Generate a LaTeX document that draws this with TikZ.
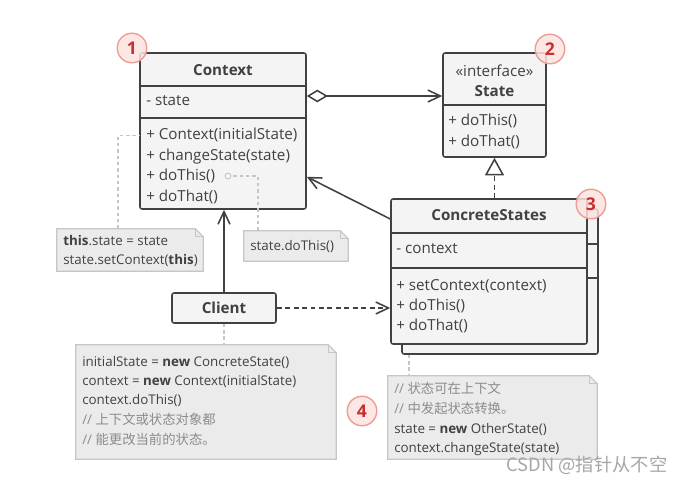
\documentclass[tikz,border=0pt]{standalone}
\usepackage{fontspec}
\setmainfont{Open Sans}
\newfontfamily\cjk{Noto Sans CJK SC}
\usetikzlibrary{arrows.meta,fit,calc}

\definecolor{ink}{HTML}{414141}
\definecolor{boxfill}{HTML}{F4F4F4}
\definecolor{notefill}{HTML}{EBEBEB}
\definecolor{noteline}{HTML}{C6C6C6}
\definecolor{hint}{HTML}{8C8C8C}
\definecolor{badgefill}{HTML}{FCE3E0}
\definecolor{badgeline}{HTML}{EC9C94}
\definecolor{badgetext}{HTML}{C8302E}

% comment line inside a note
\newcommand\cmt[1]{{\color{hint}// {\cjk #1}}}
% note sheet with a folded corner
\newcommand\notesheet[1]{%
  \draw[notebox] (#1.south west) -- (#1.north west) -- ($(#1.north east)+(-8,0)$)
    -- ($(#1.north east)+(0,8)$) -- (#1.south east) -- cycle;
  \draw[notebox, fill=none] ($(#1.north east)+(-8,0)$) |- ($(#1.north east)+(0,8)$);}

\begin{document}
\begin{tikzpicture}[x=0.025cm, y=-0.025cm,
  font=\fontsize{10.8}{14}\selectfont, text=ink,
  classbox/.style={draw=ink, fill=boxfill, line width=1.1pt, rounded corners=1.5pt, inner sep=0pt},
  divider/.style={draw=ink, line width=1.1pt},
  member/.style={anchor=west, inner sep=0pt, text height=7.5pt, text depth=2pt},
  noteline/.style={member, font=\fontsize{9.5}{12}\selectfont},
  title/.style={inner sep=0pt, font=\fontsize{10.8}{14}\selectfont\bfseries},
  notearea/.style={inner sep=0pt},
  notebox/.style={draw=noteline, fill=notefill, line width=0.8pt},
  hintline/.style={draw=noteline, line width=0.9pt, dash pattern=on 2.5pt off 2pt},
  link/.style={draw=ink, line width=1.1pt},
  openhead/.style={-{Straight Barb[length=9pt, width=8.5pt]}},
  badge/.style={circle, draw=badgeline, fill=badgefill, fill opacity=0.85, text opacity=1,
    line width=1pt, minimum size=21pt, inner sep=0pt,
    font=\fontsize{12.5}{12.5}\selectfont\bfseries, text=badgetext}]
\useasboundingbox (0,0) rectangle (687,483);

% Context
\node[classbox, fit={(140,53) (306,209)}] (context) {};
\draw[divider] (context.west |- 0,86) -- (context.east |- 0,86);
\draw[divider] (context.west |- 0,118) -- (context.east |- 0,118);
\node[title] (ctxname) at (223,70) {Context};
\node[member] (ctxattr) at (146,102) {- state};
\foreach \txt [count=\i] in {+ Context(initialState), + changeState(state), + doThis(), + doThat()}
  \node[member] (ctxop\i) at (146,115+20.6*\i) {\txt};

% State
\node[classbox, fit={(443,53) (546,157)}] (state) {};
\draw[divider] (state.west |- 0,105) -- (state.east |- 0,105);
\node[inner sep=0pt] (stereo) at (494.5,71) {«interface»};
\node[title] (statename) at (494.5,91) {State};
\node[member] (stop1) at (448,122) {+ doThis()};
\node[member] (stop2) at (448,143) {+ doThat()};

% ConcreteStates (with a copy behind it)
\node[classbox, fit={(402,209) (598,354)}] (cback) {};
\draw[divider] (cback.west |- 0,244) -- (cback.east |- 0,244);
\draw[divider] (cback.west |- 0,278) -- (cback.east |- 0,278);
\node[classbox, fit={(391,199) (587,344)}] (cstates) {};
\draw[divider] (cstates.west |- 0,233) -- (cstates.east |- 0,233);
\draw[divider] (cstates.west |- 0,268) -- (cstates.east |- 0,268);
\node[title] (csname) at (489,215) {ConcreteStates};
\node[member] (csattr) at (396,250) {- context};
\foreach \txt [count=\i] in {+ setContext(context), + doThis(), + doThat()}
  \node[member] (csop\i) at (396,266+20.2*\i) {\txt};

% Client
\node[classbox, fit={(172,293) (276,323)}] (client) {};
\node[title] (clientname) at (client.center) {Client};

% relations
\draw[link, {Diamond[length=15pt, width=9pt, fill=white]}-{Straight Barb[length=9pt, width=8.5pt]}]
  (context.east |- 0,96) -- (state.west |- 0,96);
\draw[link, dash pattern=on 3.5pt off 2.5pt, -{Triangle[length=12.5pt, width=13.5pt, fill=white]}]
  (cstates.north -| state.south) -- (state.south);
\draw[link, openhead] (cstates.west |- 0,219) -- (context.east |- ctxop3);
\draw[link, openhead] (client.north) -- (client.north |- context.south);
\draw[link, openhead, dash pattern=on 3.5pt off 2.5pt] (client.east) -- (client.east -| cstates.west);

% notes
\node[notearea, fit={(57,229) (203,271)}] (noteA) {};
\notesheet{noteA}
\node[noteline] (noteA1) at (63,242) {\textbf{this}.state = state};
\node[noteline] (noteA2) at (63,261) {state.setContext(\textbf{this})};
\draw[hintline] (noteA.north -| 118,0) |- (context.west |- ctxop1);

\node[notearea, fit={(244,231) (348,261)}] (noteB) {};
\notesheet{noteB}
\node[noteline] (noteB1) at (250,247) {state.doThis()};
\node[circle, draw=noteline, fill=white, line width=0.8pt, minimum size=4pt, inner sep=0pt] (opdot) at (228,176) {};
\draw[hintline] (noteB.north -| 258,0) |- (opdot.east);

\node[notearea, fit={(76,345) (336,459)}] (noteC) {};
\notesheet{noteC}
\node[noteline] (noteC1) at (82,363) {initialState = \textbf{new} ConcreteState()};
\node[noteline] (noteC2) at (82,382) {context = \textbf{new} Context(initialState)};
\node[noteline] (noteC3) at (82,401) {context.doThis()};
\node[noteline] (noteC4) at (82,421) {\cmt{上下文或状态对象都}};
\node[noteline] (noteC5) at (82,441) {\cmt{能更改当前的状态。}};
\draw[hintline] (client.south) -- (client.south |- noteC.north);

\node[notearea, fit={(388,376) (597,459)}] (noteD) {};
\notesheet{noteD}
\node[noteline] (noteD1) at (394,390) {\cmt{状态可在上下文}};
\node[noteline] (noteD2) at (394,410) {\cmt{中发起状态转换。}};
\node[noteline] (noteD3) at (394,430) {state = \textbf{new} OtherState()};
\node[noteline] (noteD4) at (394,449) {context.changeState(state)};
\draw[hintline] (cback.south -| 409,0) -- (noteD.north -| 409,0);

% badges
\node[badge] (badge1) at (132,48) {1};
\node[badge] (badge2) at (550,49) {2};
\node[badge] (badge3) at (591,204) {3};
\node[badge] (badge4) at (362,411) {4};

\node[inner sep=0pt, font=\cjk\fontsize{13}{13}\selectfont, text=black!35] (mark) at (587,465) {CSDN @指针从不空};
\end{tikzpicture}
\end{document}
